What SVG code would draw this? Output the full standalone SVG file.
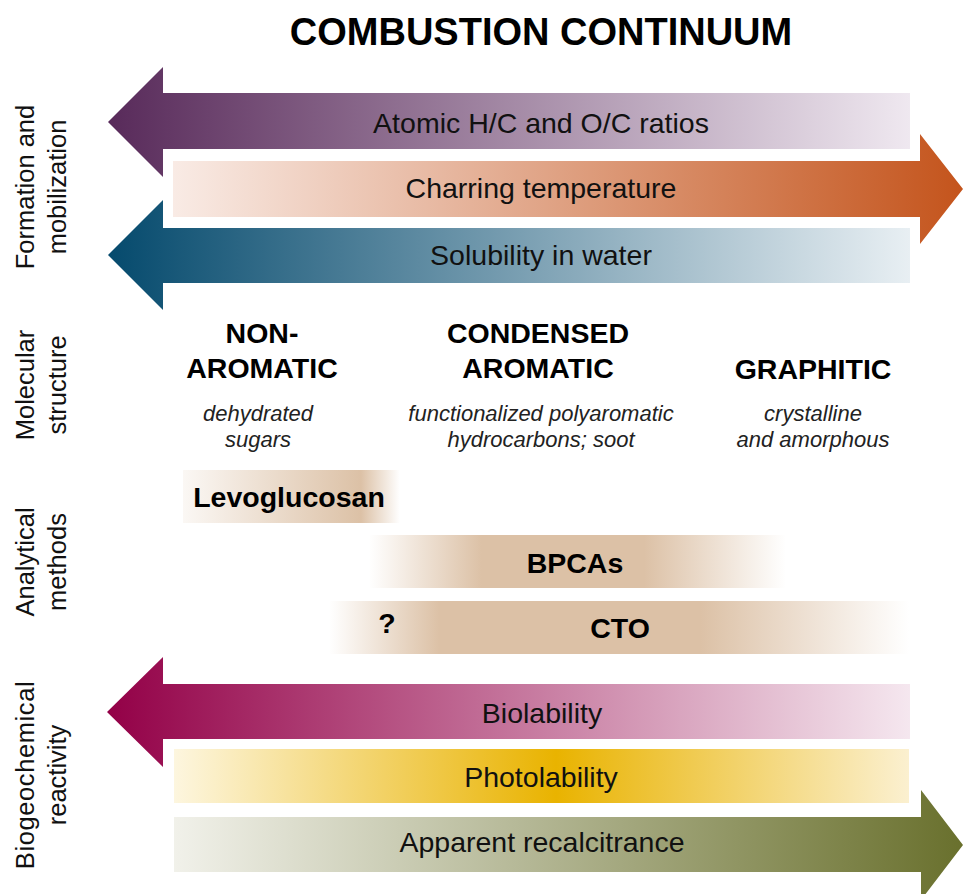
<svg xmlns="http://www.w3.org/2000/svg" width="963" height="894" viewBox="0 0 963 894">
<style>
text{font-family:"Liberation Sans",Arial,sans-serif;fill:#000}
.title{font-size:38px;font-weight:bold;text-anchor:middle}
.side{font-size:25.5px;text-anchor:middle;fill:#111}
.head{font-size:28.5px;font-weight:bold;text-anchor:middle}
.desc{font-size:22px;font-style:italic;text-anchor:middle;fill:#222}
.bar{font-size:28.5px;text-anchor:middle;fill:#111}
.meth{font-size:28.5px;font-weight:bold;text-anchor:middle}
</style>
<defs>
<linearGradient id="gPurple" gradientUnits="userSpaceOnUse" x1="108" y1="0" x2="910" y2="0">
<stop offset="0" stop-color="#582a5a"/><stop offset="1" stop-color="#efe8f0"/>
</linearGradient>
<linearGradient id="gOrange" gradientUnits="userSpaceOnUse" x1="173" y1="0" x2="963" y2="0">
<stop offset="0" stop-color="#f9ebe5"/><stop offset="1" stop-color="#c4541c"/>
</linearGradient>
<linearGradient id="gBlue" gradientUnits="userSpaceOnUse" x1="108" y1="0" x2="910" y2="0">
<stop offset="0" stop-color="#054a6d"/><stop offset="1" stop-color="#e8eff3"/>
</linearGradient>
<linearGradient id="gCrimson" gradientUnits="userSpaceOnUse" x1="107" y1="0" x2="910" y2="0">
<stop offset="0" stop-color="#930047"/><stop offset="1" stop-color="#f5e7ef"/>
</linearGradient>
<linearGradient id="gYellow" gradientUnits="userSpaceOnUse" x1="174" y1="0" x2="909" y2="0">
<stop offset="0" stop-color="#fdf6df"/><stop offset="0.52" stop-color="#e9b300"/><stop offset="1" stop-color="#fbf0d0"/>
</linearGradient>
<linearGradient id="gOlive" gradientUnits="userSpaceOnUse" x1="174" y1="0" x2="963" y2="0">
<stop offset="0" stop-color="#f1f1ea"/><stop offset="1" stop-color="#69702d"/>
</linearGradient>
<linearGradient id="gLevo" x1="0" y1="0" x2="1" y2="0">
<stop offset="0" stop-color="#dcc1a6" stop-opacity="0.12"/><stop offset="0.82" stop-color="#dcc1a6" stop-opacity="1"/><stop offset="1" stop-color="#dcc1a6" stop-opacity="0"/>
</linearGradient>
<linearGradient id="gBpca" x1="0" y1="0" x2="1" y2="0">
<stop offset="0" stop-color="#dcc1a6" stop-opacity="0"/><stop offset="0.27" stop-color="#dcc1a6" stop-opacity="1"/><stop offset="0.66" stop-color="#dcc1a6" stop-opacity="1"/><stop offset="1" stop-color="#dcc1a6" stop-opacity="0"/>
</linearGradient>
<linearGradient id="gCto" x1="0" y1="0" x2="1" y2="0">
<stop offset="0" stop-color="#dcc1a6" stop-opacity="0"/><stop offset="0.19" stop-color="#dcc1a6" stop-opacity="1"/><stop offset="0.64" stop-color="#dcc1a6" stop-opacity="1"/><stop offset="1" stop-color="#dcc1a6" stop-opacity="0"/>
</linearGradient>
</defs>
<rect width="963" height="894" fill="#fff"/>

<text class="title" x="541" y="45">COMBUSTION CONTINUUM</text>

<g id="side-labels">
<text class="side" transform="translate(34,187) rotate(-90)">Formation and</text>
<text class="side" transform="translate(66,187) rotate(-90)">mobilization</text>
<text class="side" transform="translate(34,385) rotate(-90)">Molecular</text>
<text class="side" transform="translate(66,385) rotate(-90)">structure</text>
<text class="side" transform="translate(34,562) rotate(-90)">Analytical</text>
<text class="side" transform="translate(66,562) rotate(-90)">methods</text>
<text class="side" transform="translate(34,775) rotate(-90)" letter-spacing="0.6">Biogeochemical</text>
<text class="side" transform="translate(66,775) rotate(-90)">reactivity</text>
</g>

<g id="atomic-ratios">
<path d="M108,122 L163,67 L163,93 L910,93 L910,149 L163,149 L163,177 Z" fill="url(#gPurple)"/>
<text class="bar" x="541" y="133">Atomic H/C and O/C ratios</text>
</g>
<g id="charring-temperature">
<path d="M173,161 L920,161 L920,134 L963,189 L920,244 L920,217 L173,217 Z" fill="url(#gOrange)"/>
<text class="bar" x="541" y="198">Charring temperature</text>
</g>
<g id="solubility">
<path d="M108,255 L163,200 L163,228 L910,228 L910,283 L163,283 L163,310 Z" fill="url(#gBlue)"/>
<text class="bar" x="541" y="265">Solubility in water</text>
</g>

<g id="non-aromatic">
<text class="head" x="262" y="343">NON-</text>
<text class="head" x="262" y="378">AROMATIC</text>
<text class="desc" x="258" y="421">dehydrated</text>
<text class="desc" x="258" y="447">sugars</text>
</g>
<g id="condensed-aromatic">
<text class="head" x="538" y="343">CONDENSED</text>
<text class="head" x="538" y="378">AROMATIC</text>
<text class="desc" x="541" y="421">functionalized polyaromatic</text>
<text class="desc" x="541" y="447">hydrocarbons; soot</text>
</g>
<g id="graphitic">
<text class="head" x="813" y="379">GRAPHITIC</text>
<text class="desc" x="813" y="421">crystalline</text>
<text class="desc" x="813" y="447">and amorphous</text>
</g>

<g id="levoglucosan">
<rect x="183" y="470" width="217" height="53" fill="url(#gLevo)"/>
<text class="meth" x="289" y="507">Levoglucosan</text>
</g>
<g id="bpcas">
<rect x="369" y="535" width="417" height="53" fill="url(#gBpca)"/>
<text class="meth" x="575" y="573">BPCAs</text>
</g>
<g id="cto">
<rect x="329" y="601" width="580" height="53" fill="url(#gCto)"/>
<text class="meth" x="387" y="633">?</text>
<text class="meth" x="620" y="638">CTO</text>
</g>

<g id="biolability">
<path d="M107,712 L163,657 L163,684 L910,684 L910,739 L163,739 L163,767 Z" fill="url(#gCrimson)"/>
<text class="bar" x="542" y="723">Biolability</text>
</g>
<g id="photolability">
<rect x="174" y="749" width="735" height="54" fill="url(#gYellow)"/>
<text class="bar" x="541" y="787">Photolability</text>
</g>
<g id="recalcitrance">
<path d="M174,817 L921,817 L921,790 L963,845 L921,900 L921,872 L174,872 Z" fill="url(#gOlive)"/>
<text class="bar" x="542" y="852">Apparent recalcitrance</text>
</g>
<g id="connectors"/>
</svg>
